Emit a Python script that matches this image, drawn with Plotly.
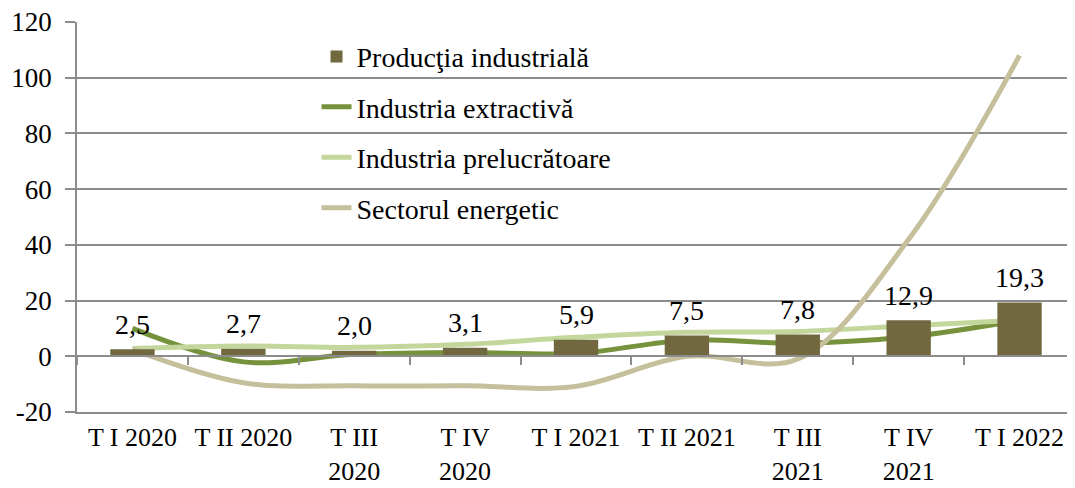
import plotly.graph_objects as go

categories = ["T I 2020", "T II 2020", "T III 2020", "T IV 2020", "T I 2021",
              "T II 2021", "T III 2021", "T IV 2021", "T I 2022"]
tick_labels = ["T I 2020", "T II 2020", "T III<br>2020", "T IV<br>2020", "T I 2021",
               "T II 2021", "T III<br>2021", "T IV<br>2021", "T I 2022"]
productia = [2.5, 2.7, 2.0, 3.1, 5.9, 7.5, 7.8, 12.9, 19.3]
extractiva = [10.0, -2.0, 0.7, 1.4, 1.0, 5.8, 4.7, 7.0, 13.0]
prelucratoare = [2.8, 3.7, 3.2, 4.3, 6.8, 8.6, 8.9, 11.0, 13.0]
energetic = [2.5, -9.5, -10.6, -10.6, -10.8, 0.0, -1.0, 42.0, 108.0]
y_ticks = [-20, 0, 20, 40, 60, 80, 100, 120]

FONT = "Liberation Serif"
FS = 28
GRID = "#8c8c8c"

fig = go.Figure()
fig.add_trace(go.Bar(x=categories, y=productia, name="Producţia industrială",
                     marker=dict(color="#716840", line=dict(width=0)),
                     width=0.4, xaxis="x2", legendgroup="a"))
fig.add_trace(go.Scatter(x=categories, y=extractiva, name="Industria extractivă",
                         mode="lines", line=dict(color="#76923c", width=5, shape="spline", smoothing=1),
                         legendgroup="b"))
fig.add_trace(go.Scatter(x=categories, y=prelucratoare, name="Industria prelucrătoare",
                         mode="lines", line=dict(color="#c3d69b", width=5, shape="spline", smoothing=1),
                         legendgroup="c"))
fig.add_trace(go.Scatter(x=categories, y=energetic, name="Sectorul energetic",
                         mode="lines", line=dict(color="#c5bf9b", width=5, shape="spline", smoothing=1),
                         legendgroup="d"))

for c, v in zip(categories, productia):
    fig.add_annotation(x=c, y=v, xref="x2", yref="y", text=f"{v:.1f}".replace(".", ","),
                       showarrow=False, yshift=25, yanchor="middle",
                       font=dict(family=FONT, size=FS, color="black"))

fig.update_layout(
    width=1067, height=480,
    margin=dict(l=69, r=0, t=14, b=76, autoexpand=False),
    paper_bgcolor="white", plot_bgcolor="white",
    font=dict(family=FONT, size=FS, color="black"),
    showlegend=True,
    legend=dict(x=0.240, y=0.975, xanchor="left", yanchor="top",
                bgcolor="rgba(0,0,0,0)", tracegroupgap=11,
                font=dict(family=FONT, size=FS, color="black"),
                traceorder="grouped"),
    xaxis=dict(type="category", categoryorder="array", categoryarray=categories,
               tickvals=categories, ticktext=tick_labels, range=[-0.5, 8.5],
               showgrid=False, showline=True, linecolor=GRID, linewidth=1.5,
               ticks="", anchor="y", automargin=False, ticklabelstandoff=1,
               ticklabeloverflow="allow",
               tickfont=dict(family=FONT, size=26)),
    xaxis2=dict(type="category", categoryorder="array", categoryarray=categories,
                matches="x", overlaying="x", anchor="free", position=1/7,
                showticklabels=False, showgrid=False, showline=True,
                linecolor=GRID, linewidth=1.5, ticks="outside", ticklen=8,
                tickcolor=GRID, tickwidth=1.5, tickson="boundaries"),
    yaxis=dict(range=[-20, 120], tickvals=y_ticks, ticktext=[str(v) for v in y_ticks],
               showgrid=True, gridcolor=GRID,
               gridwidth=1.5, zeroline=False, showline=True, linecolor=GRID,
               linewidth=1.5, ticks="outside", ticklen=10, tickcolor=GRID,
               tickwidth=1.5, ticklabelstandoff=8, automargin=False,
               ticklabeloverflow="allow",
               tickfont=dict(family=FONT, size=27)),
)

fig.write_html("out.html")
